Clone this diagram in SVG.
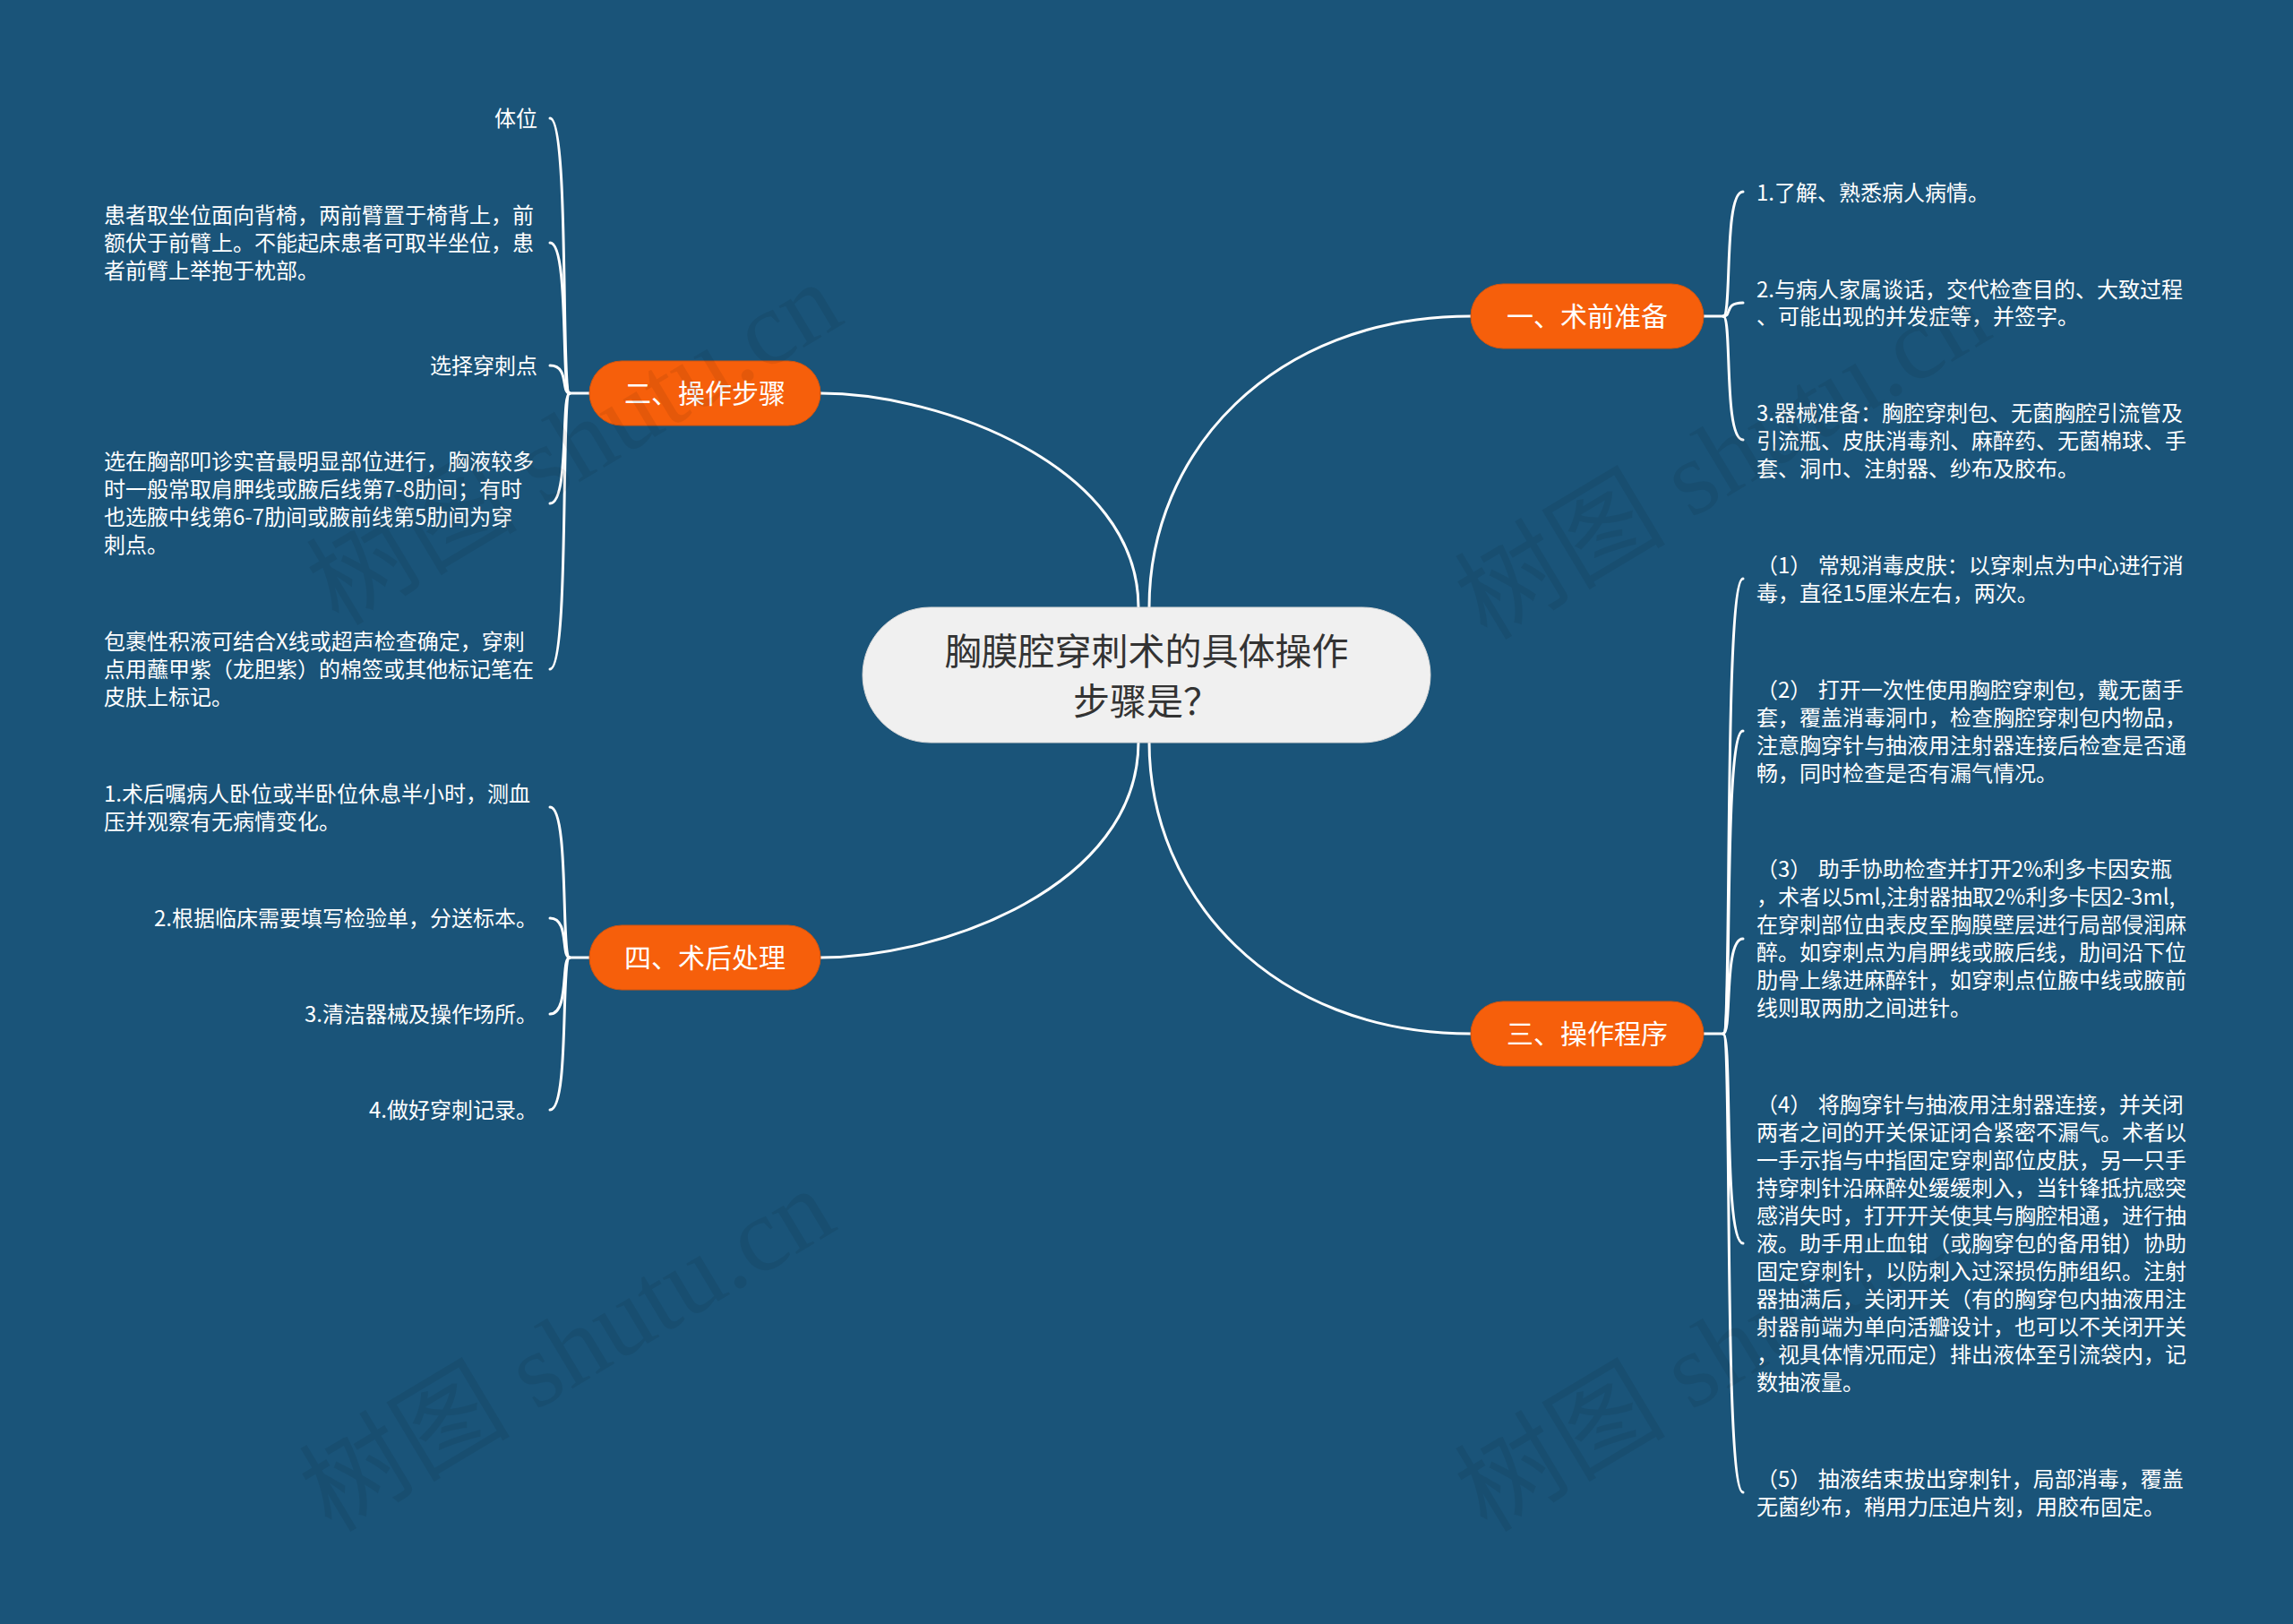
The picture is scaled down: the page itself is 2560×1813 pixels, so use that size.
<svg xmlns="http://www.w3.org/2000/svg" width="2560" height="1813" viewBox="0 0 2560 1813">
<style>
.bg{fill:#1a5479}
.link{fill:none;stroke:#ffffff;stroke-width:3;stroke-linecap:round}
.main{fill:none;stroke:#ffffff;stroke-width:3}
.branch{fill:#f65f0b;stroke:#d4540e;stroke-width:1}
.blabel{font-family:"Noto Sans CJK SC","Noto Sans",sans-serif;font-size:30px;fill:#ffffff;text-anchor:middle}
.root{fill:#f0f0f0;stroke:#d8d8d8;stroke-width:1}
.rlabel{font-family:"Noto Sans CJK SC","Noto Sans",sans-serif;font-size:41px;fill:#333333;text-anchor:middle}
.leaf{font-family:"Noto Sans CJK SC","Noto Sans",sans-serif;font-size:24px;fill:#ffffff}
.end{text-anchor:end}
.wm{font-family:"Liberation Serif","Noto Sans CJK SC",serif;font-size:118px;fill:#000000;fill-opacity:0.07}
</style>
<rect class="bg" x="0" y="0" width="2560" height="1813"/>

<g id="connectors">
  <path class="main" d="M1283,678 C1283,506 1420,353 1642,353"/>
  <path class="main" d="M1271,678 C1271,520 1050,439 916,439"/>
  <path class="main" d="M1283,828 C1283,1000 1420,1154 1642,1154"/>
  <path class="main" d="M1271,828 C1271,990 1050,1069 916,1069"/>
  <path class="link" d="M1902,353 L1924,353"/>
  <path class="link" d="M1924,353 C1934,353 1924,214 1946,214"/>
  <path class="link" d="M1924,353 C1934,353 1924,338 1946,338"/>
  <path class="link" d="M1924,353 C1934,353 1924,491 1946,491"/>
  <path class="link" d="M1902,1154 L1924,1154"/>
  <path class="link" d="M1924,1154 C1934,1154 1924,646 1946,646"/>
  <path class="link" d="M1924,1154 C1934,1154 1924,816 1946,816"/>
  <path class="link" d="M1924,1154 C1934,1154 1924,1048 1946,1048"/>
  <path class="link" d="M1924,1154 C1934,1154 1924,1388 1946,1388"/>
  <path class="link" d="M1924,1154 C1934,1154 1924,1666 1946,1666"/>
  <path class="link" d="M658,439 L636,439"/>
  <path class="link" d="M636,439 C626,439 636,132 614,132"/>
  <path class="link" d="M636,439 C626,439 636,271 614,271"/>
  <path class="link" d="M636,439 C626,439 636,408 614,408"/>
  <path class="link" d="M636,439 C626,439 636,562 614,562"/>
  <path class="link" d="M636,439 C626,439 636,747 614,747"/>
  <path class="link" d="M658,1069 L636,1069"/>
  <path class="link" d="M636,1069 C626,1069 636,901 614,901"/>
  <path class="link" d="M636,1069 C626,1069 636,1025 614,1025"/>
  <path class="link" d="M636,1069 C626,1069 636,1132 614,1132"/>
  <path class="link" d="M636,1069 C626,1069 636,1239 614,1239"/>
</g>

<g id="root">
  <rect class="root" x="963" y="678" width="634" height="151" rx="75.5"/>
  <text class="rlabel" x="1280" y="742">胸膜腔穿刺术的具体操作</text>
  <text class="rlabel" x="1280" y="798">步骤是？</text>
</g>

<g id="b1">
  <rect class="branch" x="1642" y="317" width="260" height="72" rx="36"/>
  <text class="blabel" x="1772" y="364">一、术前准备</text>
</g>
<g id="b2">
  <rect class="branch" x="658" y="403" width="258" height="72" rx="36"/>
  <text class="blabel" x="787" y="450">二、操作步骤</text>
</g>
<g id="b3">
  <rect class="branch" x="1642" y="1118" width="260" height="72" rx="36"/>
  <text class="blabel" x="1772" y="1165">三、操作程序</text>
</g>
<g id="b4">
  <rect class="branch" x="658" y="1033" width="258" height="72" rx="36"/>
  <text class="blabel" x="787" y="1080">四、术后处理</text>
</g>

<g id="b1-1"><text class="leaf" x="1961" y="224">1.了解、熟悉病人病情。</text></g>
<g id="b1-2">
  <text class="leaf" x="1961" y="332">2.与病人家属谈话，交代检查目的、大致过程</text>
  <text class="leaf" x="1961" y="362">、可能出现的并发症等，并签字。</text>
</g>
<g id="b1-3">
  <text class="leaf" x="1961" y="470">3.器械准备：胸腔穿刺包、无菌胸腔引流管及</text>
  <text class="leaf" x="1961" y="501">引流瓶、皮肤消毒剂、麻醉药、无菌棉球、手</text>
  <text class="leaf" x="1961" y="532">套、洞巾、注射器、纱布及胶布。</text>
</g>

<g id="b3-1">
  <text class="leaf" x="1961" y="640" word-spacing="2">（1） 常规消毒皮肤：以穿刺点为中心进行消</text>
  <text class="leaf" x="1961" y="671">毒，直径15厘米左右，两次。</text>
</g>
<g id="b3-2">
  <text class="leaf" x="1961" y="779" word-spacing="2">（2） 打开一次性使用胸腔穿刺包，戴无菌手</text>
  <text class="leaf" x="1961" y="810">套，覆盖消毒洞巾，检查胸腔穿刺包内物品，</text>
  <text class="leaf" x="1961" y="841">注意胸穿针与抽液用注射器连接后检查是否通</text>
  <text class="leaf" x="1961" y="872">畅，同时检查是否有漏气情况。</text>
</g>
<g id="b3-3">
  <text class="leaf" x="1961" y="979" word-spacing="2">（3） 助手协助检查并打开2%利多卡因安瓶</text>
  <text class="leaf" x="1961" y="1010">，术者以5ml,注射器抽取2%利多卡因2-3ml,</text>
  <text class="leaf" x="1961" y="1041">在穿刺部位由表皮至胸膜壁层进行局部侵润麻</text>
  <text class="leaf" x="1961" y="1072">醉。如穿刺点为肩胛线或腋后线，肋间沿下位</text>
  <text class="leaf" x="1961" y="1103">肋骨上缘进麻醉针，如穿刺点位腋中线或腋前</text>
  <text class="leaf" x="1961" y="1134">线则取两肋之间进针。</text>
</g>
<g id="b3-4">
  <text class="leaf" x="1961" y="1242" word-spacing="2">（4） 将胸穿针与抽液用注射器连接，并关闭</text>
  <text class="leaf" x="1961" y="1273">两者之间的开关保证闭合紧密不漏气。术者以</text>
  <text class="leaf" x="1961" y="1304">一手示指与中指固定穿刺部位皮肤，另一只手</text>
  <text class="leaf" x="1961" y="1335">持穿刺针沿麻醉处缓缓刺入，当针锋抵抗感突</text>
  <text class="leaf" x="1961" y="1366">感消失时，打开开关使其与胸腔相通，进行抽</text>
  <text class="leaf" x="1961" y="1397">液。助手用止血钳（或胸穿包的备用钳）协助</text>
  <text class="leaf" x="1961" y="1428">固定穿刺针，以防刺入过深损伤肺组织。注射</text>
  <text class="leaf" x="1961" y="1459">器抽满后，关闭开关（有的胸穿包内抽液用注</text>
  <text class="leaf" x="1961" y="1490">射器前端为单向活瓣设计，也可以不关闭开关</text>
  <text class="leaf" x="1961" y="1521">，视具体情况而定）排出液体至引流袋内，记</text>
  <text class="leaf" x="1961" y="1552">数抽液量。</text>
</g>
<g id="b3-5">
  <text class="leaf" x="1961" y="1660" word-spacing="2">（5） 抽液结束拔出穿刺针，局部消毒，覆盖</text>
  <text class="leaf" x="1961" y="1691">无菌纱布，稍用力压迫片刻，用胶布固定。</text>
</g>

<g id="b2-1"><text class="leaf end" x="600" y="141">体位</text></g>
<g id="b2-2">
  <text class="leaf" x="116" y="249">患者取坐位面向背椅，两前臂置于椅背上，前</text>
  <text class="leaf" x="116" y="280">额伏于前臂上。不能起床患者可取半坐位，患</text>
  <text class="leaf" x="116" y="311">者前臂上举抱于枕部。</text>
</g>
<g id="b2-3"><text class="leaf end" x="600" y="417">选择穿刺点</text></g>
<g id="b2-4">
  <text class="leaf" x="116" y="524">选在胸部叩诊实音最明显部位进行，胸液较多</text>
  <text class="leaf" x="116" y="555">时一般常取肩胛线或腋后线第7-8肋间；有时</text>
  <text class="leaf" x="116" y="586">也选腋中线第6-7肋间或腋前线第5肋间为穿</text>
  <text class="leaf" x="116" y="617">刺点。</text>
</g>
<g id="b2-5">
  <text class="leaf" x="116" y="725">包裹性积液可结合X线或超声检查确定，穿刺</text>
  <text class="leaf" x="116" y="756">点用蘸甲紫（龙胆紫）的棉签或其他标记笔在</text>
  <text class="leaf" x="116" y="787">皮肤上标记。</text>
</g>

<g id="b4-1">
  <text class="leaf" x="116" y="895">1.术后嘱病人卧位或半卧位休息半小时，测血</text>
  <text class="leaf" x="116" y="926">压并观察有无病情变化。</text>
</g>
<g id="b4-2"><text class="leaf end" x="600" y="1034">2.根据临床需要填写检验单，分送标本。</text></g>
<g id="b4-3"><text class="leaf end" x="600" y="1141">3.清洁器械及操作场所。</text></g>
<g id="b4-4"><text class="leaf end" x="600" y="1248">4.做好穿刺记录。</text></g>

<g id="watermarks">
  <text class="wm" transform="translate(378,700) rotate(-31)">树图 shutu.cn</text>
  <text class="wm" transform="translate(1660,716) rotate(-31)">树图 shutu.cn</text>
  <text class="wm" transform="translate(370,1712) rotate(-31)">树图 shutu.cn</text>
  <text class="wm" transform="translate(1660,1712) rotate(-31)">树图 shutu.cn</text>
</g>
</svg>
